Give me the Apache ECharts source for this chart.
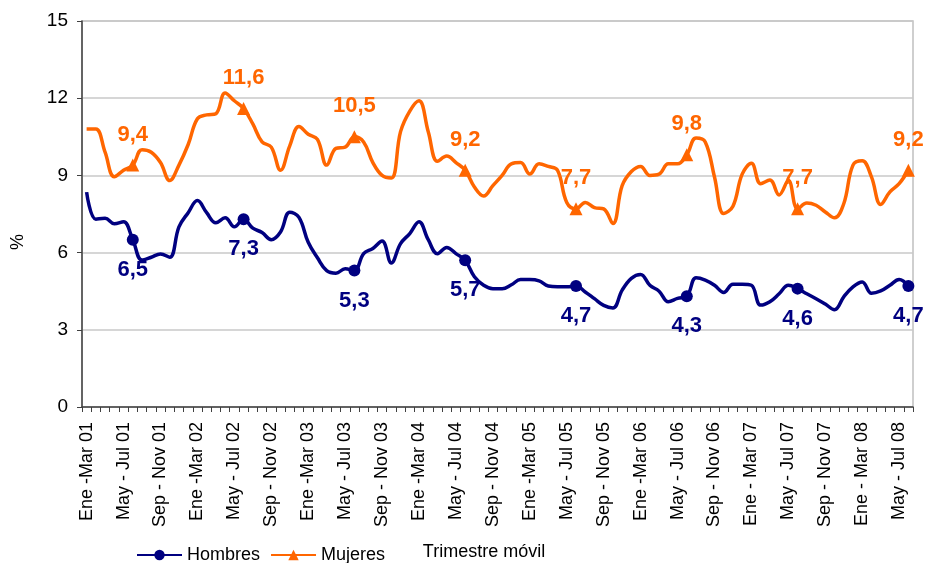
<!DOCTYPE html>
<html>
<head>
<meta charset="utf-8">
<script src="https://cdn.jsdelivr.net/npm/echarts@6/dist/echarts.min.js"></script>
<style>
html,body{margin:0;padding:0;background:#fff;}
#chart{width:925px;height:563px;}
</style>
</head>
<body>
<div id="chart"></div>
<script>
const categories = [
  "Ene -Mar 01","Feb - Abr 01","Mar - May 01","Abr - Jun 01","May - Jul 01","Jun - Ago 01","Jul - Sep 01","Ago - Oct 01","Sep - Nov 01","Oct - Dic 01","Nov - Ene 02","Dic - Feb 02",
  "Ene -Mar 02","Feb - Abr 02","Mar - May 02","Abr - Jun 02","May - Jul 02","Jun - Ago 02","Jul - Sep 02","Ago - Oct 02","Sep - Nov 02","Oct - Dic 02","Nov - Ene 03","Dic - Feb 03",
  "Ene -Mar 03","Feb - Abr 03","Mar - May 03","Abr - Jun 03","May - Jul 03","Jun - Ago 03","Jul - Sep 03","Ago - Oct 03","Sep - Nov 03","Oct - Dic 03","Nov - Ene 04","Dic - Feb 04",
  "Ene -Mar 04","Feb - Abr 04","Mar - May 04","Abr - Jun 04","May - Jul 04","Jun - Ago 04","Jul - Sep 04","Ago - Oct 04","Sep - Nov 04","Oct - Dic 04","Nov - Ene 05","Dic - Feb 05",
  "Ene -Mar 05","Feb - Abr 05","Mar - May 05","Abr - Jun 05","May - Jul 05","Jun - Ago 05","Jul - Sep 05","Ago - Oct 05","Sep - Nov 05","Oct - Dic 05","Nov - Ene 06","Dic - Feb 06",
  "Ene -Mar 06","Feb - Abr 06","Mar - May 06","Abr - Jun 06","May - Jul 06","Jun - Ago 06","Jul - Sep 06","Ago - Oct 06","Sep - Nov 06","Oct - Dic 06","Nov - Ene 07","Dic - Feb 07",
  "Ene - Mar 07","Feb - Abr 07","Mar - May 07","Abr - Jun 07","May - Jul 07","Jun - Ago 07","Jul - Sep 07","Ago - Oct 07","Sep - Nov 07","Oct - Dic 07","Nov - Ene 08","Dic - Feb 08",
  "Ene - Mar 08","Feb - Abr 08","Mar - May 08","Abr - Jun 08","May - Jul 08","Jun - Ago 08"
];

const hombres = [
  8.35,7.3,7.33,7.12,7.2,6.5,5.71,5.82,5.95,5.82,7.0,7.55,
  8.02,7.55,7.16,7.35,7.0,7.3,6.95,6.78,6.5,6.8,7.57,7.37,
  6.4,5.8,5.3,5.2,5.37,5.3,5.96,6.16,6.45,5.6,6.35,6.74,
  7.2,6.5,5.96,6.2,5.96,5.7,5.06,4.73,4.6,4.6,4.75,4.95,
  4.95,4.9,4.7,4.67,4.67,4.7,4.47,4.21,3.95,3.85,4.54,5.0,
  5.15,4.73,4.5,4.09,4.22,4.3,5.02,4.93,4.73,4.45,4.77,4.77,
  4.73,3.96,4.09,4.4,4.73,4.6,4.4,4.21,4.0,3.78,4.28,4.67,
  4.86,4.42,4.51,4.73,4.95,4.7
];

const mujeres = [
  10.8,10.8,9.9,8.95,9.2,9.4,10.0,9.9,9.5,8.8,9.4,10.2,
  11.2,11.35,11.4,12.2,11.9,11.6,11.0,10.3,10.1,9.2,10.15,10.9,
  10.6,10.4,9.4,10.05,10.1,10.5,10.3,9.5,9.0,8.9,10.7,11.5,
  11.9,10.7,9.55,9.75,9.5,9.2,8.55,8.2,8.6,9.0,9.45,9.5,
  9.05,9.45,9.35,9.2,7.95,7.7,7.95,7.75,7.7,7.13,8.6,9.15,
  9.35,9.0,9.05,9.45,9.45,9.8,10.45,10.3,8.94,7.52,7.8,9.05,
  9.47,8.68,8.82,8.24,8.8,7.7,7.93,7.84,7.58,7.35,7.9,9.4,
  9.57,8.94,7.87,8.36,8.68,9.2
];

const markerIdx = [5,17,29,41,53,65,77,89];

const FONT = "'Liberation Sans', Arial, sans-serif";
const BLUE = '#000080';
const ORANGE = '#FF6600';

function fmt(v){ return v.toFixed(1).replace('.', ','); }

function buildData(values, labelPos, dist){
  return values.map((v,i) => markerIdx.indexOf(i) >= 0
    ? {value: v, label: {show: true, position: labelPos, distance: dist}}
    : {value: v, symbol: 'none'});
}

const chart = echarts.init(document.getElementById('chart'), null, {renderer: 'canvas'});
chart.setOption({
  animation: false,
  backgroundColor: '#ffffff',
  textStyle: {fontFamily: FONT},
  grid: {left: 82, right: 12, top: 21, bottom: 156, containLabel: false, outerBoundsMode: 'none',
         show: true, borderColor: '#c0c0c0', borderWidth: 1.5},
  legend: {
    left: 131, top: 541,
    itemWidth: 45, itemHeight: 13, itemGap: 10,
    textStyle: {fontFamily: FONT, fontSize: 18, color: '#000'},
    data: ['Hombres', 'Mujeres']
  },
  xAxis: {
    type: 'category',
    data: categories,
    boundaryGap: true,
    name: 'Trimestre móvil',
    nameLocation: 'middle',
    nameGap: 136,
    nameTextStyle: {fontFamily: FONT, fontSize: 18, color: '#000', padding: [0, 27, 0, 0]},
    axisLine: {show: true, lineStyle: {color: '#404040', width: 1.5}},
    axisTick: {show: true, interval: 0, alignWithLabel: false, length: 5, lineStyle: {color: '#404040'}},
    axisLabel: {interval: 3, rotate: 90, margin: 15, fontFamily: FONT, fontSize: 18, color: '#000'},
    splitLine: {show: false}
  },
  yAxis: {
    type: 'value',
    min: 0, max: 15, interval: 3,
    name: '%',
    nameLocation: 'middle',
    nameGap: 55,
    nameTextStyle: {fontFamily: FONT, fontSize: 18, color: '#000', padding: [0, 56, 0, 0]},
    axisLine: {show: true, lineStyle: {color: '#404040', width: 1.5}},
    axisTick: {show: true, length: 5, lineStyle: {color: '#404040'}},
    axisLabel: {margin: 14, fontFamily: FONT, fontSize: 19, color: '#000'},
    splitLine: {show: true, lineStyle: {color: '#c8c8c8', width: 1.5}}
  },
  series: [
    {
      name: 'Hombres',
      type: 'line',
      data: buildData(hombres, 'bottom', 13),
      smooth: 0.4,
      symbol: 'circle',
      symbolSize: 12,
      showAllSymbol: true,
      lineStyle: {color: BLUE, width: 3.5},
      itemStyle: {color: BLUE},
      label: {formatter: p => fmt(p.value), fontFamily: FONT, fontSize: 22, fontWeight: 'bold', color: BLUE},
      z: 3
    },
    {
      name: 'Mujeres',
      type: 'line',
      data: buildData(mujeres, 'top', 13),
      smooth: 0.4,
      symbol: 'triangle',
      symbolSize: 13,
      showAllSymbol: true,
      lineStyle: {color: ORANGE, width: 3.5},
      itemStyle: {color: ORANGE},
      label: {formatter: p => fmt(p.value), fontFamily: FONT, fontSize: 22, fontWeight: 'bold', color: ORANGE},
      z: 3
    }
  ]
});
</script>
</body>
</html>
